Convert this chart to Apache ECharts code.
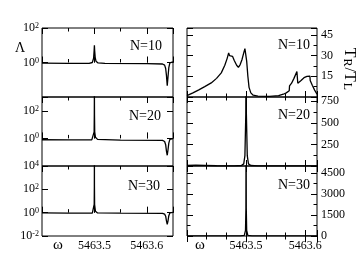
<!DOCTYPE html>
<html><head><meta charset="utf-8">
<script src="https://cdn.jsdelivr.net/npm/echarts@6/dist/echarts.min.js"></script>
<style>html,body{margin:0;padding:0;background:#fff}#c{width:358px;height:277px}</style>
</head><body><div id="c"></div>
<script>
// ---- data: left panels, Lambda (log scale) vs omega ----
const lam10 = [
  [5463.400, 0.92],[5463.450, 0.9],[5463.490, 0.9],[5463.496, 1.0],[5463.4985, 1.8],
  [5463.4995, 5.0],[5463.5000, 10],[5463.5005, 5.0],[5463.5015, 2.0],[5463.503, 1.2],
  [5463.507, 0.95],[5463.520, 0.88],[5463.600, 0.85],[5463.630, 0.82],[5463.634, 0.7],
  [5463.636, 0.45],[5463.6375, 0.18],[5463.639, 0.045],[5463.6405, 0.15],[5463.642, 0.5],
  [5463.644, 0.95],[5463.646, 1.1],[5463.650, 1.1]
];
const lam20 = [
  [5463.400, 0.8],[5463.450, 0.78],[5463.495, 0.78],[5463.4985, 1.0],[5463.4995, 3],
  [5463.4998, 50],[5463.5000, 3000],[5463.5002, 50],[5463.5006, 3],[5463.502, 1.2],
  [5463.506, 0.85],[5463.550, 0.75],[5463.630, 0.72],[5463.634, 0.6],[5463.636, 0.35],
  [5463.6375, 0.12],[5463.639, 0.06],[5463.6405, 0.15],[5463.642, 0.45],[5463.644, 0.85],
  [5463.650, 0.95]
];
const lam30 = [
  [5463.400, 0.95],[5463.450, 0.92],[5463.496, 0.9],[5463.4988, 1.2],[5463.4996, 5],
  [5463.4999, 200],[5463.5000, 100000],[5463.5001, 200],[5463.5004, 5],[5463.502, 1.3],
  [5463.506, 0.95],[5463.550, 0.9],[5463.630, 0.88],[5463.634, 0.75],[5463.636, 0.5],
  [5463.6375, 0.2],[5463.639, 0.1],[5463.6405, 0.2],[5463.642, 0.55],[5463.644, 0.95],
  [5463.650, 1.05]
];
// ---- data: right panels, T_R/T_L vs omega ----
const tr10 = [
  [5463.400, 1.0],[5463.410, 3.0],[5463.420, 5.2],[5463.430, 7.5],[5463.441, 10.2],
  [5463.450, 13.5],[5463.458, 17.5],[5463.464, 23],[5463.468, 28],[5463.4705, 32],
  [5463.472, 30],[5463.4735, 31],[5463.475, 29],[5463.477, 29.5],[5463.480, 26.5],
  [5463.484, 23],[5463.487, 21.5],[5463.490, 23.5],[5463.493, 27],[5463.496, 32],
  [5463.498, 35],[5463.4995, 34],[5463.501, 26],[5463.503, 15],[5463.505, 7],
  [5463.508, 3],[5463.512, 1.3],[5463.520, 0.6],[5463.540, 0.5],[5463.555, 1.0],
  [5463.563, 2.0],[5463.568, 3.0],[5463.573, 4.5],[5463.5735, 8],[5463.577, 10],
  [5463.581, 13.5],[5463.586, 18.5],[5463.5875, 10],[5463.593, 12],[5463.598, 14],
  [5463.603, 15],[5463.608, 15.2],[5463.6085, 12],[5463.612, 8.5],[5463.616, 5],
  [5463.620, 2]
];
const tr20 = [
  [5463.400, 6],[5463.415, 9],[5463.430, 7],[5463.450, 3],[5463.480, 2],[5463.492, 6],
  [5463.496, 25],[5463.498, 120],[5463.4995, 600],[5463.500, 1500],[5463.5005, 600],
  [5463.502, 120],[5463.504, 25],[5463.508, 6],[5463.520, 2],[5463.560, 1],[5463.620, 1]
];
const tr30 = [
  [5463.400, 5],[5463.490, 10],[5463.497, 40],[5463.499, 400],[5463.4997, 2000],
  [5463.500, 10000],[5463.5003, 2000],[5463.501, 400],[5463.503, 40],[5463.510, 10],
  [5463.520, 3],[5463.620, 3]
];
const panelLabels = ['N=10', 'N=20', 'N=30'];
const xTickLabels = [5463.5, 5463.6];
const leftYRange = [[-2, 2], [-2, 3], [-2, 4]];      // exponents of 10
const leftYLabels = [[0, 2], [0, 2], [-2, 0, 2, 4]];
const rightYRange = [[0, 50], [0, 800], [0, 5000]];
const rightYInterval = [15, 250, 1500];
const rightYLabels = [[15, 30, 45], [250, 500, 750], [0, 1500, 3000, 4500]];
const leftXRange = [5463.4, 5463.65];
const rightXRange = [5463.4, 5463.62];

const FONT = 'Liberation Serif';
const leftData = [lam10, lam20, lam30];
const rightData = [tr10, tr20, tr30];
const tops = [28, 97, 166], heights = [69, 69, 70];
const grids = [], xAxes = [], yAxes = [], series = [], graphics = [];
const MAJ = 6, MIN = 3.5;

function addGrid(left, width, top, height) {
  grids.push({left, top, width, height, show: true, borderColor: '#000', borderWidth: 1,
    backgroundColor: 'transparent', outerBoundsMode: 'none', containLabel: false});
  return grids.length - 1;
}
function tick(len) { return {show: true, inside: true, length: len, lineStyle: {color: '#000', width: 1}}; }
function addX(gi, pos, range, interval, len, labeled) {
  xAxes.push({type: 'value', gridIndex: gi, position: pos, min: range[0], max: range[1], interval,
    axisLine: {show: false}, splitLine: {show: false}, axisTick: tick(len),
    axisLabel: labeled ? {show: true, margin: 4, color: '#000', fontFamily: FONT, fontSize: 12,
      formatter: v => xTickLabels.some(t => Math.abs(t - v) < 1e-6) ? v.toFixed(1) : ''} : {show: false}});
  return xAxes.length - 1;
}
function addY(gi, pos, range, interval, len, label, extra) {
  yAxes.push(Object.assign({type: 'value', gridIndex: gi, position: pos, min: range[0], max: range[1], interval,
    axisLine: {show: false}, splitLine: {show: false}, axisTick: tick(len),
    axisLabel: label || {show: false}}, extra || {}));
  return yAxes.length - 1;
}

for (let i = 0; i < 3; i++) {
  const bottomLabels = (i === 2);
  // left panel
  let g = addGrid(42, 131, tops[i], heights[i]);
  const xi = addX(g, 'bottom', leftXRange, 0.1, MAJ, bottomLabels);
  addX(g, 'bottom', leftXRange, 0.05, MIN, false);
  addX(g, 'top', leftXRange, 0.1, MAJ, false);
  addX(g, 'top', leftXRange, 0.05, MIN, false);
  const labs = leftYLabels[i];
  const yi = addY(g, 'left', leftYRange[i], 2, MAJ, {
    show: true, margin: 3, color: '#000', fontFamily: FONT,
    formatter: v => labs.includes(v) ? '{b|10}{s|' + v + '}' : '',
    rich: {
      b: {fontFamily: FONT, fontSize: 12, lineHeight: 12, verticalAlign: 'bottom', color: '#000'},
      s: {fontFamily: FONT, fontSize: 8, lineHeight: 8, verticalAlign: 'top', padding: [0, 0, 7, 0], color: '#000'}
    }
  });
  addY(g, 'right', leftYRange[i], 2, MAJ, null);
  series.push({type: 'line', xAxisIndex: xi, yAxisIndex: yi, showSymbol: false, symbol: 'none',
    lineStyle: {color: '#000', width: 1.3}, data: leftData[i].map(p => [p[0], Math.log10(p[1])]),
    animation: false, clip: true});

  // right panel
  g = addGrid(187, 130, tops[i], heights[i]);
  const xr = addX(g, 'bottom', rightXRange, 0.1, MAJ, bottomLabels);
  addX(g, 'bottom', rightXRange, 0.1 / 3, MIN, false);
  addX(g, 'top', rightXRange, 0.1, MAJ, false);
  addX(g, 'top', rightXRange, 0.1 / 3, MIN, false);
  const rl = rightYLabels[i];
  const yr = addY(g, 'left', rightYRange[i], rightYInterval[i], MAJ, null);
  addY(g, 'left', rightYRange[i], rightYInterval[i] / 2, MIN, null);
  const nameOpt = (i === 0) ? {
    name: '{m|T}{sub|R}{m|/T}{sub|L}', nameLocation: 'middle', nameRotate: -90, nameGap: 24,
    nameTextStyle: {fontFamily: FONT, fontSize: 16, color: '#000', padding: [0, 0, 0, 14], rich: {
      m: {fontFamily: FONT, fontSize: 16, lineHeight: 16, verticalAlign: 'top', color: '#000'},
      sub: {fontFamily: FONT, fontSize: 12, lineHeight: 12, verticalAlign: 'bottom', padding: [7, 1, 0, 1], color: '#000'}
    }}
  } : {};
  addY(g, 'right', rightYRange[i], rightYInterval[i], MAJ, {
    show: true, margin: 4, color: '#000', fontFamily: FONT, fontSize: 12,
    formatter: v => rl.includes(v) ? String(v) : ''}, nameOpt);
  addY(g, 'right', rightYRange[i], rightYInterval[i] / 2, MIN, null);
  series.push({type: 'line', xAxisIndex: xr, yAxisIndex: yr, showSymbol: false, symbol: 'none',
    lineStyle: {color: '#000', width: 1.3}, data: rightData[i], animation: false, clip: true});

  // panel labels
  const ny = tops[i] + 18 + i;
  graphics.push({type: 'text', x: 162 - i, y: ny, style: {text: panelLabels[i], fontFamily: FONT,
    fontSize: 14, fill: '#000', align: 'right', verticalAlign: 'middle'}});
  graphics.push({type: 'text', x: 310, y: ny - 0.5, style: {text: panelLabels[i], fontFamily: FONT,
    fontSize: 14, fill: '#000', align: 'right', verticalAlign: 'middle'}});
}

graphics.push({type: 'text', x: 20, y: 48, style: {text: 'Λ', fontFamily: FONT, fontSize: 14,
  fill: '#000', align: 'center', verticalAlign: 'middle'}});
graphics.push({type: 'text', x: 58, y: 245, style: {text: 'ω', fontFamily: FONT, fontSize: 15,
  fill: '#000', align: 'center', verticalAlign: 'middle'}});
graphics.push({type: 'text', x: 200, y: 245, style: {text: 'ω', fontFamily: FONT, fontSize: 15,
  fill: '#000', align: 'center', verticalAlign: 'middle'}});

const chart = echarts.init(document.getElementById('c'), null, {renderer: 'canvas'});
chart.setOption({animation: false, backgroundColor: '#fff', grid: grids, xAxis: xAxes, yAxis: yAxes,
  series, graphic: graphics});
</script></body></html>
